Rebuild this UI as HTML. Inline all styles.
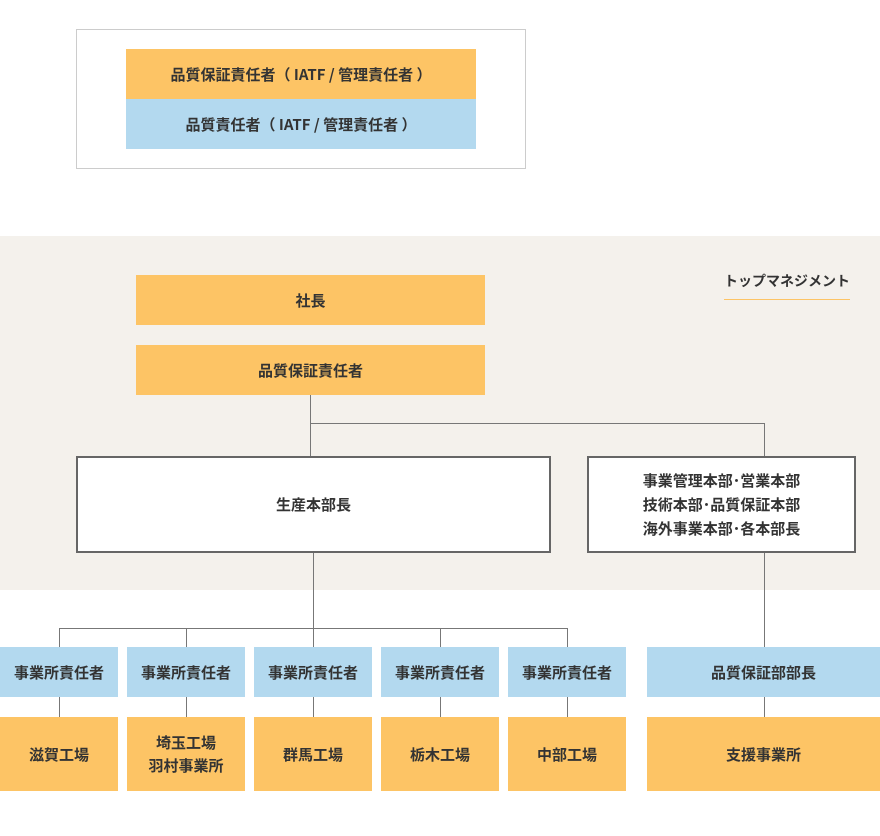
<!DOCTYPE html>
<html><head><meta charset="utf-8"><style>
body{margin:0;width:880px;height:836px;background:#fff;position:relative;overflow:hidden;font-family:"Noto Sans CJK JP",sans-serif;font-size:15px;font-weight:700;color:#333}
.b{position:absolute;display:flex;align-items:center;justify-content:center;text-align:center;line-height:23px;box-sizing:border-box}
.o{background:#fdc465}.u{background:#b3d9ef}
.w{background:#fff;border:2px solid #666}
.l{position:absolute;background:#777}
</style></head><body>
<div style="position:absolute;left:76px;top:29px;width:448px;height:138px;border:1px solid #ccc"></div>
<div class="b o" style="left:126px;top:49px;width:350px;height:50px">品質保証責任者（ IATF / 管理責任者 ）</div>
<div class="b u" style="left:126px;top:99px;width:350px;height:50px">品質責任者（ IATF / 管理責任者 ）</div>
<div style="position:absolute;left:0;top:236px;width:880px;height:354px;background:#f4f1ec"></div>
<div style="position:absolute;left:720px;top:271px;width:134px;text-align:center;font-size:14px">トップマネジメント</div>
<div style="position:absolute;left:724px;top:299px;width:126px;height:1px;background:#fdc465"></div>
<div class="b o" style="left:136px;top:275px;width:349px;height:50px">社長</div>
<div class="b o" style="left:136px;top:345px;width:349px;height:50px">品質保証責任者</div>
<div class="l" style="left:310px;top:395px;width:1px;height:61px"></div>
<div class="l" style="left:310px;top:423px;width:455px;height:1px"></div>
<div class="l" style="left:764px;top:423px;width:1px;height:33px"></div>
<div class="b w" style="left:76px;top:456px;width:475px;height:97px">生産本部長</div>
<div class="b w" style="left:587px;top:456px;width:269px;height:97px;line-height:24px">事業管理本部･営業本部<br>技術本部･品質保証本部<br>海外事業本部･各本部長</div>
<div class="l" style="left:313px;top:553px;width:1px;height:75px"></div>
<div class="l" style="left:59px;top:628px;width:509px;height:1px"></div>
<div class="l" style="left:764px;top:553px;width:1px;height:94px"></div>
<div class="l" style="left:764px;top:697px;width:1px;height:20px"></div>

<div class="l" style="left:59px;top:628px;width:1px;height:19px"></div>
<div class="l" style="left:186px;top:628px;width:1px;height:19px"></div>
<div class="l" style="left:313px;top:628px;width:1px;height:19px"></div>
<div class="l" style="left:440px;top:628px;width:1px;height:19px"></div>
<div class="l" style="left:567px;top:628px;width:1px;height:19px"></div>
<div class="l" style="left:59px;top:697px;width:1px;height:20px"></div>
<div class="l" style="left:186px;top:697px;width:1px;height:20px"></div>
<div class="l" style="left:313px;top:697px;width:1px;height:20px"></div>
<div class="l" style="left:440px;top:697px;width:1px;height:20px"></div>
<div class="l" style="left:567px;top:697px;width:1px;height:20px"></div>

<div class="b u" style="left:0;top:647px;width:118px;height:50px">事業所責任者</div>
<div class="b u" style="left:127px;top:647px;width:118px;height:50px">事業所責任者</div>
<div class="b u" style="left:254px;top:647px;width:118px;height:50px">事業所責任者</div>
<div class="b u" style="left:381px;top:647px;width:118px;height:50px">事業所責任者</div>
<div class="b u" style="left:508px;top:647px;width:118px;height:50px">事業所責任者</div>
<div class="b u" style="left:647px;top:647px;width:233px;height:50px">品質保証部部長</div>
<div class="b o" style="left:0;top:717px;width:118px;height:74px">滋賀工場</div>
<div class="b o" style="left:127px;top:717px;width:118px;height:74px">埼玉工場<br>羽村事業所</div>
<div class="b o" style="left:254px;top:717px;width:118px;height:74px">群馬工場</div>
<div class="b o" style="left:381px;top:717px;width:118px;height:74px">栃木工場</div>
<div class="b o" style="left:508px;top:717px;width:118px;height:74px">中部工場</div>
<div class="b o" style="left:647px;top:717px;width:233px;height:74px">支援事業所</div>
</body></html>
